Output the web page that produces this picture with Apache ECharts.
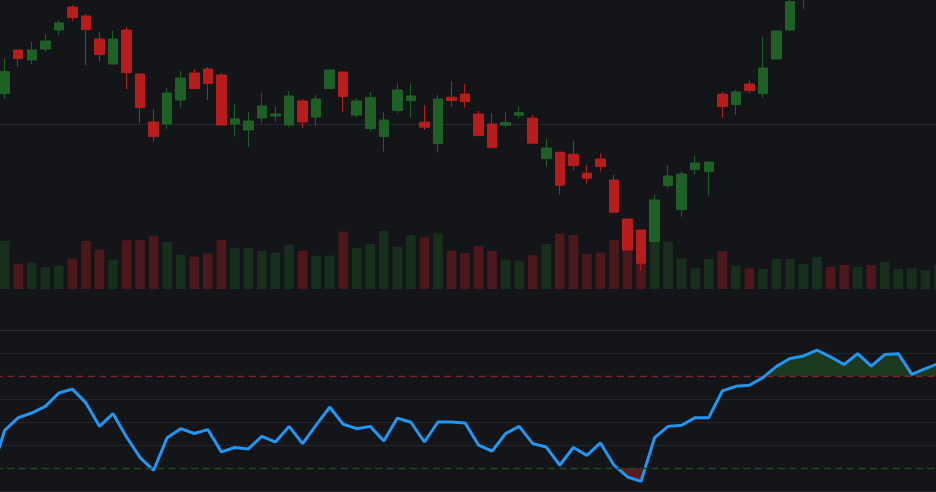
<!DOCTYPE html>
<html>
<head>
<meta charset="utf-8">
<script src="https://cdn.jsdelivr.net/npm/echarts@6/dist/echarts.min.js"></script>
<style>
html, body { margin: 0; padding: 0; background: #131519; }
#chart { width: 936px; height: 492px; }
</style>
</head>
<body>
<div id="chart"></div>
<script>
// trading days, first one sits just off the left edge
var dates = ['2/29','3/1','3/4','3/5','3/6','3/7','3/8','3/11','3/12','3/13','3/14','3/15',
  '3/18','3/19','3/20','3/21','3/22','3/25','3/26','3/27','3/28','3/29',
  '4/1','4/2','4/3','4/4','4/5','4/8','4/9','4/10','4/11','4/12',
  '4/15','4/16','4/17','4/18','4/19','4/22','4/23','4/24','4/25','4/26',
  '4/29','4/30','5/1','5/2','5/3','5/6','5/7','5/8','5/9','5/10',
  '5/13','5/14','5/15','5/16','5/17','5/20','5/21','5/22','5/23','5/24',
  '5/27','5/28','5/29','5/30','5/31','6/3','6/4','6/5','6/6'];

var opens = [61.00, 61.52, 63.70, 63.20, 63.75, 64.70, 65.85, 65.40, 64.25, 63.00, 64.70,
  62.50, 60.10, 60.00, 61.20, 62.55, 62.75, 62.45, 60.00, 59.70, 60.30,
  60.40, 59.95, 61.15, 60.35, 61.77, 62.60, 60.45, 59.77, 59.37, 60.67,
  61.17, 60.09, 59.02, 61.34, 61.50, 60.50, 60.00, 59.94, 60.44, 60.29,
  58.27, 58.59, 58.49, 57.54, 58.25, 57.20, 55.25, 54.70, 54.12, 56.92,
  55.72, 57.72, 57.62, 61.49, 60.97, 62.00, 61.52, 63.25, 64.70, 66.40,
  67.20, 67.90, 67.50, 67.20, 67.90, 67.50, 68.00, 67.20, 67.60, 68.00];

var closes = [61.50, 62.62, 63.27, 63.70, 64.15, 65.05, 65.32, 64.72, 63.47, 64.25, 62.57,
  60.82, 59.37, 61.55, 62.30, 61.77, 62.02, 59.95, 60.25, 60.15, 60.90,
  60.50, 61.40, 60.10, 61.25, 62.70, 61.37, 61.15, 61.32, 60.20, 61.70,
  61.40, 59.84, 61.25, 61.17, 61.12, 59.42, 58.82, 60.07, 60.57, 59.04,
  58.80, 56.94, 57.92, 57.29, 57.87, 55.59, 53.70, 53.04, 56.20, 57.40,
  57.50, 58.05, 58.10, 60.87, 61.60, 61.67, 62.80, 64.65, 66.12, 67.30,
  67.90, 67.50, 67.10, 67.90, 67.40, 68.10, 68.30, 67.50, 67.90, 68.50];

var lows = [60.80, 61.25, 62.85, 63.00, 63.60, 64.45, 65.17, 62.95, 63.10, 63.00, 61.75,
  60.05, 59.10, 59.75, 60.82, 61.77, 61.20, 59.95, 59.37, 58.85, 60.05,
  60.10, 59.85, 59.80, 59.90, 61.77, 60.62, 60.32, 59.62, 58.62, 60.54,
  60.32, 59.70, 58.57, 60.87, 60.82, 59.42, 58.77, 59.82, 60.27, 59.04,
  57.87, 56.47, 57.67, 57.02, 57.62, 55.59, 53.70, 52.67, 54.12, 56.77,
  55.37, 57.47, 56.42, 60.32, 60.45, 61.52, 61.32, 63.25, 64.65, 65.75,
  66.90, 67.20, 66.80, 67.00, 67.10, 67.30, 67.80, 66.90, 67.40, 67.80];

var highs = [61.80, 63.30, 63.70, 64.10, 64.50, 65.20, 65.95, 65.50, 64.60, 64.65, 64.85,
  62.50, 60.75, 61.80, 62.65, 62.75, 62.85, 62.55, 61.00, 60.60, 61.55,
  60.90, 61.65, 61.25, 61.45, 62.70, 62.60, 61.30, 61.60, 60.59, 62.04,
  62.04, 60.95, 61.45, 62.15, 62.00, 60.65, 60.54, 60.60, 60.90, 60.45,
  59.25, 58.59, 59.15, 57.95, 58.54, 57.45, 55.25, 54.70, 56.45, 57.95,
  57.64, 58.40, 58.15, 61.60, 61.70, 62.20, 64.35, 64.65, 66.40, 67.60,
  68.30, 68.10, 67.80, 68.20, 68.00, 68.40, 68.60, 67.80, 68.20, 68.70];

var volumes = [3500, 4800, 2530, 2630, 2170, 2330, 3030, 4800, 3930, 2930, 4870,
  4900, 5330, 4700, 3430, 3230, 3530, 4900, 4130, 4100, 3830,
  3670, 4430, 3830, 3330, 3330, 5730, 4100, 4500, 5800, 4230,
  5370, 5170, 5570, 3830, 3600, 4300, 3800, 2930, 2830, 3370,
  4500, 5530, 5400, 3500, 3630, 4900, 4400, 4000, 4730, 4730,
  3070, 2100, 3000, 3800, 2300, 2070, 2000, 3000, 3000, 2500,
  3200, 2230, 2400, 2230, 2400, 2730, 2000, 2070, 1900, 2430];

var rsi = [28.0, 46.4, 51.9, 53.9, 56.8, 62.6, 64.3, 58.3, 48.1, 53.6, 43.5,
  34.5, 29.0, 43.2, 47.1, 45.0, 46.7, 37.0, 38.9, 38.3, 43.8,
  41.3, 48.1, 40.6, 48.6, 56.5, 49.0, 47.1, 48.1, 41.7, 51.7,
  49.9, 41.3, 50.0, 50.0, 49.6, 39.9, 37.3, 45.0, 48.1, 40.6,
  39.1, 31.2, 38.9, 35.5, 40.9, 31.2, 26.1, 24.2, 43.2, 48.1,
  48.6, 51.9, 51.9, 63.5, 65.5, 66.0, 69.3, 74.2, 77.6, 78.7,
  81.2, 78.3, 75.0, 79.7, 74.3, 79.3, 79.7, 70.7, 73.2, 75.5];

var rsiLevels = [30, 70];

var upColor = '#1f6026';
var downColor = '#b81d1d';
var gridColor = '#222529';

var chart = echarts.init(document.getElementById('chart'));

var candles = opens.map(function (o, i) {
  return [o, closes[i], lows[i], highs[i]];
});
var volumeBars = volumes.map(function (v, i) {
  return {
    value: v,
    itemStyle: { color: closes[i] >= opens[i] ? '#172f1c' : '#4c181b' }
  };
});

function hiddenX(gridIndex) {
  return {
    type: 'category', gridIndex: gridIndex, data: dates, boundaryGap: true,
    axisLine: { show: false }, axisTick: { show: false },
    axisLabel: { show: false }, splitLine: { show: false }
  };
}

// the panels run past the window on purpose, so no clamping to the canvas
function panel(top, bottom) {
  return { left: -15.6, right: -9.7, top: top, bottom: bottom, outerBoundsMode: 'none' };
}

var rsiX = hiddenX(2);
rsiX.position = 'top';
rsiX.axisLine = { show: true, onZero: false, lineStyle: { color: '#2a2d32', width: 1 } };

var option = {
  backgroundColor: '#131519',
  animation: false,
  grid: [panel(-276, -32), panel(189, 203), panel(330, 1)],
  xAxis: [hiddenX(0), hiddenX(1), rsiX],
  yAxis: [
    {
      gridIndex: 0, min: 40, max: 80, interval: 20,
      axisLine: { show: false }, axisTick: { show: false }, axisLabel: { show: false },
      splitLine: { show: true, lineStyle: { color: '#24272b', width: 1 } }
    },
    {
      gridIndex: 1, min: 0, max: 10000,
      axisLine: { show: false }, axisTick: { show: false }, axisLabel: { show: false },
      splitLine: { show: false }
    },
    {
      gridIndex: 2, min: 20, max: 90, interval: 10,
      axisLine: { show: false }, axisTick: { show: false }, axisLabel: { show: false },
      splitLine: {
        show: true,
        lineStyle: {
          width: 1,
          // 20,30,40,50,60,70,80,90 - the 30 / 70 levels get dashed marks instead
          color: [gridColor, 'rgba(0,0,0,0)', gridColor, gridColor, gridColor, 'rgba(0,0,0,0)', gridColor, 'rgba(0,0,0,0)']
        }
      }
    }
  ],
  visualMap: {
    show: false,
    type: 'piecewise',
    seriesIndex: 2,
    pieces: [
      { gt: 70, lte: 100, color: '#1b3a1f' },
      { gte: 30, lte: 70, color: 'rgba(0,0,0,0)' },
      { gte: 0, lt: 30, color: '#5a1b1d' }
    ]
  },
  series: [
    {
      name: 'Volume', type: 'bar', xAxisIndex: 1, yAxisIndex: 1,
      data: volumeBars, barWidth: 9.6
    },
    {
      name: 'Price', type: 'candlestick', xAxisIndex: 0, yAxisIndex: 0,
      data: candles, barWidth: 10, z: 5,
      itemStyle: {
        color: upColor, color0: downColor,
        borderColor: upColor, borderColor0: downColor, borderWidth: 1
      }
    },
    {
      name: 'RSI zones', type: 'line', xAxisIndex: 2, yAxisIndex: 2,
      data: rsi, symbol: 'none',
      lineStyle: { width: 0, opacity: 0 },
      areaStyle: { origin: 50, opacity: 1 },
      markLine: {
        silent: true, symbol: ['none', 'none'], label: { show: false },
        data: [
          { yAxis: rsiLevels[1], lineStyle: { color: '#7a2629', type: [7, 4.5], width: 1.3 } },
          { yAxis: rsiLevels[0], lineStyle: { color: '#1f4824', type: [7, 4.5], width: 1.3 } }
        ]
      }
    },
    {
      name: 'RSI', type: 'line', xAxisIndex: 2, yAxisIndex: 2,
      data: rsi, symbol: 'none', z: 4,
      lineStyle: { color: '#2196f3', width: 3 },
      itemStyle: { color: '#2196f3' }
    }
  ]
};

chart.setOption(option);
</script>
</body>
</html>
